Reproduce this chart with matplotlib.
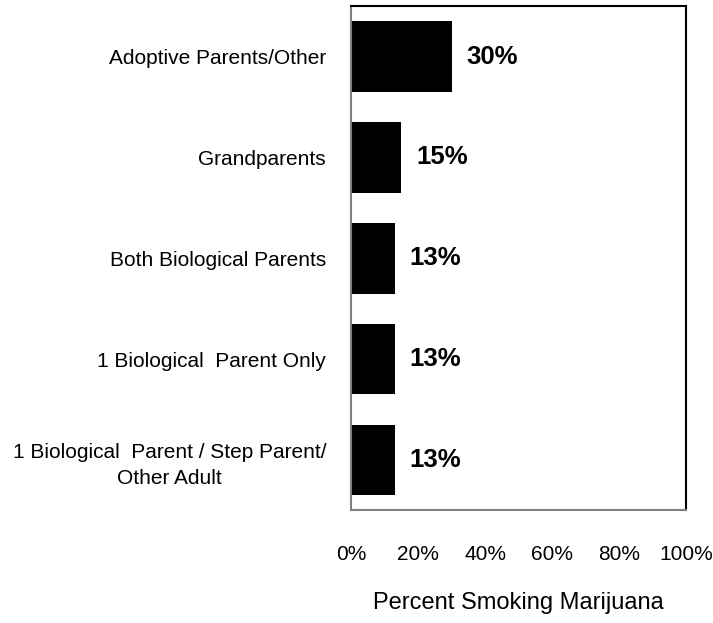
import matplotlib
matplotlib.use("Agg")
import matplotlib.pyplot as plt
from matplotlib.ticker import FuncFormatter

plt.rcParams['font.family'] = ['Liberation Sans', 'DejaVu Sans']

# data, top to bottom as in the picture
categories = ["Adoptive Parents/Other",
              "Grandparents",
              "Both Biological Parents",
              "1 Biological  Parent Only",
              "1 Biological  Parent / Step Parent/\nOther Adult"]
values = [30, 15, 13, 13, 13]
xticks = [0, 20, 40, 60, 80, 100]

fig = plt.figure(figsize=(7.13, 6.23), dpi=100)
ax = fig.add_axes([0.4923, 0.181, 0.4699, 0.809])

ypos = list(range(len(categories)))
ax.barh(ypos, values, height=0.7, color="black")
ax.set_ylim(len(categories) - 0.5, -0.5)
ax.set_xlim(0, 100)

for y, v in zip(ypos, values):
    ax.text(v + 4.5, y, f"{v}%", va="center", ha="left",
            fontsize=18.5, fontweight="bold")

ax.set_yticks(ypos)
ax.set_yticklabels(categories, fontsize=15, multialignment="center",
                   linespacing=1.45)
ax.set_xticks(xticks)
ax.xaxis.set_major_formatter(FuncFormatter(lambda x, p: f"{int(x)}%"))
ax.tick_params(axis="x", length=0, pad=25, labelsize=15)
ax.tick_params(axis="y", length=0, pad=18)

ax.set_xlabel("Percent Smoking Marijuana", fontsize=17, labelpad=20)

for side in ["left", "bottom"]:
    ax.spines[side].set_color("#808080")
    ax.spines[side].set_linewidth(1.5)
for side in ["top", "right"]:
    ax.spines[side].set_color("black")
    ax.spines[side].set_linewidth(1.5)

fig.savefig("out.png", dpi=100)
